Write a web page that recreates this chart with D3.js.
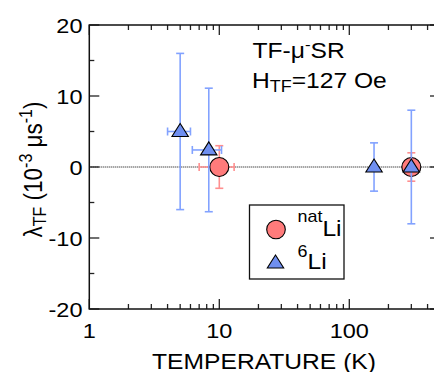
<!DOCTYPE html>
<html><head><meta charset="utf-8">
<script src="https://cdn.jsdelivr.net/npm/d3@7"></script>
<style>html,body{margin:0;padding:0;background:#fff;overflow:hidden}svg{display:block}text{font-family:"Liberation Sans",Arial,sans-serif;fill:#000}</style>
</head><body>
<svg id="c" width="434" height="372"></svg>
<script>
// data
const natT = [10, 300];
const natY = [0, 0];
const natYErr = [3, 2];
const natTLo = [7, null];
const natTHi = [13, null];

const li6T = [5, 8.3, 155, 300];
const li6Y = [5, 2.4, 0, 0];
const li6YErr = [11, 8.7, 3.4, 8];
const li6TLo = [4, 6.2, null, null];
const li6THi = [6, 10.4, null, null];

const xTicks = [1, 10, 100];
const yTicks = [-20, -10, 0, 10, 20];
const yMinor = [-15, -5, 5, 15];

const SX = 1.12; // horizontal text stretch
const svg = d3.select("#c");
const L = 89.3, R = 440, T = 25, B = 309;
const x = d3.scaleLog().domain([1, 500]).range([L, L + 130 * Math.log10(500)]);
const y = d3.scaleLinear().domain([-20, 20]).range([B, T]);

const red = "#ff7b7b", redErr = "#ff8f8f", blue = "#6f8ff0", blueErr = "#82a2ff";

// zero dotted line
svg.append("line").attr("x1", L).attr("x2", R).attr("y1", y(0)).attr("y2", y(0))
  .attr("stroke", "#000").attr("stroke-width", 1).attr("stroke-dasharray", "1,1");

// ticks
const major = 10, minor = 5;
const xMinor = [];
for (let d = 1; d <= 100; d *= 10) for (let k = 2; k <= 9; k++) if (d * k <= 500) xMinor.push(d * k);
const tk = svg.append("g").attr("stroke", "#222").attr("stroke-width", 1.3);
xTicks.forEach(v => {
  tk.append("line").attr("x1", x(v)).attr("x2", x(v)).attr("y1", B).attr("y2", B - major);
  tk.append("line").attr("x1", x(v)).attr("x2", x(v)).attr("y1", T).attr("y2", T + major);
});
xMinor.forEach(v => {
  tk.append("line").attr("x1", x(v)).attr("x2", x(v)).attr("y1", B).attr("y2", B - minor);
  tk.append("line").attr("x1", x(v)).attr("x2", x(v)).attr("y1", T).attr("y2", T + minor);
});
yTicks.forEach(v => {
  tk.append("line").attr("x1", L).attr("x2", L + major).attr("y1", y(v)).attr("y2", y(v));
  tk.append("line").attr("x1", R).attr("x2", R - major).attr("y1", y(v)).attr("y2", y(v));
});
yMinor.forEach(v => {
  tk.append("line").attr("x1", L).attr("x2", L + minor).attr("y1", y(v)).attr("y2", y(v));
  tk.append("line").attr("x1", R).attr("x2", R - minor).attr("y1", y(v)).attr("y2", y(v));
});
// frame
svg.append("rect").attr("x", L).attr("y", T).attr("width", R - L).attr("height", B - T)
  .attr("fill", "none").attr("stroke", "#111").attr("stroke-width", 1.5);

// tick labels
function stext(px, py, anchor, size) {
  return svg.append("text").attr("transform", `translate(${px},${py}) scale(${SX},1)`)
    .attr("text-anchor", anchor).attr("font-size", size);
}
yTicks.forEach(v => stext(82.5, y(v) + 7.6, "end", 21).text(v));
xTicks.forEach(v => stext(x(v), 337.5, "middle", 21).text(v));

// axis titles
stext(264, 368.5, "middle", 22).text("TEMPERATURE (K)");
const yt = svg.append("text").attr("transform", `translate(42,169.5) scale(${SX},1) rotate(-90)`)
  .attr("text-anchor", "middle").attr("font-size", 22.5);
yt.append("tspan").text("λ");
yt.append("tspan").attr("font-size", 16).attr("dy", 4).text("TF");
yt.append("tspan").attr("dy", -4).text(" (10");
yt.append("tspan").attr("font-size", 16).attr("dy", -9).text("-3");
yt.append("tspan").attr("dy", 9).text(" μs");
yt.append("tspan").attr("font-size", 16).attr("dy", -9).text("-1");
yt.append("tspan").attr("dy", 9).text(")");

// annotation
const a1 = stext(252.5, 58.3, "start", 22);
a1.append("tspan").text("TF-μ");
a1.append("tspan").attr("font-size", 15).attr("dy", -8).text("-");
a1.append("tspan").attr("dy", 8).text("SR");
const a2 = stext(252, 88.3, "start", 22);
a2.append("tspan").text("H");
a2.append("tspan").attr("font-size", 16).attr("dy", 4).text("TF");
a2.append("tspan").attr("dy", -4).text("=127 Oe");

// error bars
function errs(Ts, Ys, YE, TLo, THi, color) {
  const g = svg.append("g").attr("stroke", color).attr("stroke-width", 1.6).attr("fill", "none");
  const cap = 4;
  Ts.forEach((t, i) => {
    const cx = x(t), cy = y(Ys[i]);
    const y1 = y(Ys[i] + YE[i]), y2 = y(Ys[i] - YE[i]);
    g.append("line").attr("x1", cx).attr("x2", cx).attr("y1", y1).attr("y2", y2);
    g.append("line").attr("x1", cx - cap).attr("x2", cx + cap).attr("y1", y1).attr("y2", y1);
    g.append("line").attr("x1", cx - cap).attr("x2", cx + cap).attr("y1", y2).attr("y2", y2);
    if (TLo[i] != null) {
      const x1 = x(TLo[i]), x2 = x(THi[i]);
      g.append("line").attr("x1", x1).attr("x2", x2).attr("y1", cy).attr("y2", cy);
      g.append("line").attr("x1", x1).attr("x2", x1).attr("y1", cy - cap).attr("y2", cy + cap);
      g.append("line").attr("x1", x2).attr("x2", x2).attr("y1", cy - cap).attr("y2", cy + cap);
    }
  });
}
function tri(cx, cy) {
  const w = 8.2, h = 13;
  return `M${cx},${cy - h * 0.62}L${cx + w},${cy + h * 0.38}L${cx - w},${cy + h * 0.38}Z`;
}
errs(natT, natY, natYErr, natTLo, natTHi, redErr);
natT.forEach((t, i) => svg.append("circle").attr("cx", x(t)).attr("cy", y(natY[i])).attr("r", 9.5)
  .attr("fill", red).attr("stroke", "#000").attr("stroke-width", 1.1));
errs(li6T, li6Y, li6YErr, li6TLo, li6THi, blueErr);
li6T.forEach((t, i) => svg.append("path").attr("d", tri(x(t), y(li6Y[i])))
  .attr("fill", blue).attr("stroke", "#000").attr("stroke-width", 1.1));

// legend
svg.append("rect").attr("x", 249.5).attr("y", 205).attr("width", 94.5).attr("height", 74)
  .attr("fill", "#fff").attr("stroke", "#111").attr("stroke-width", 1.3);
svg.append("circle").attr("cx", 276).attr("cy", 229.5).attr("r", 9.3)
  .attr("fill", red).attr("stroke", "#000").attr("stroke-width", 1.1);
svg.append("path").attr("d", tri(275.5, 263)).attr("fill", blue).attr("stroke", "#000").attr("stroke-width", 1.1);
const l1 = stext(297.5, 221.7, "start", 16);
l1.append("tspan").text("nat");
l1.append("tspan").attr("font-size", 22).attr("dy", 14.3).text("Li");
const l2 = stext(297.5, 256.7, "start", 16);
l2.append("tspan").text("6");
l2.append("tspan").attr("font-size", 22).attr("dy", 12.6).text("Li");
</script>
</body></html>
